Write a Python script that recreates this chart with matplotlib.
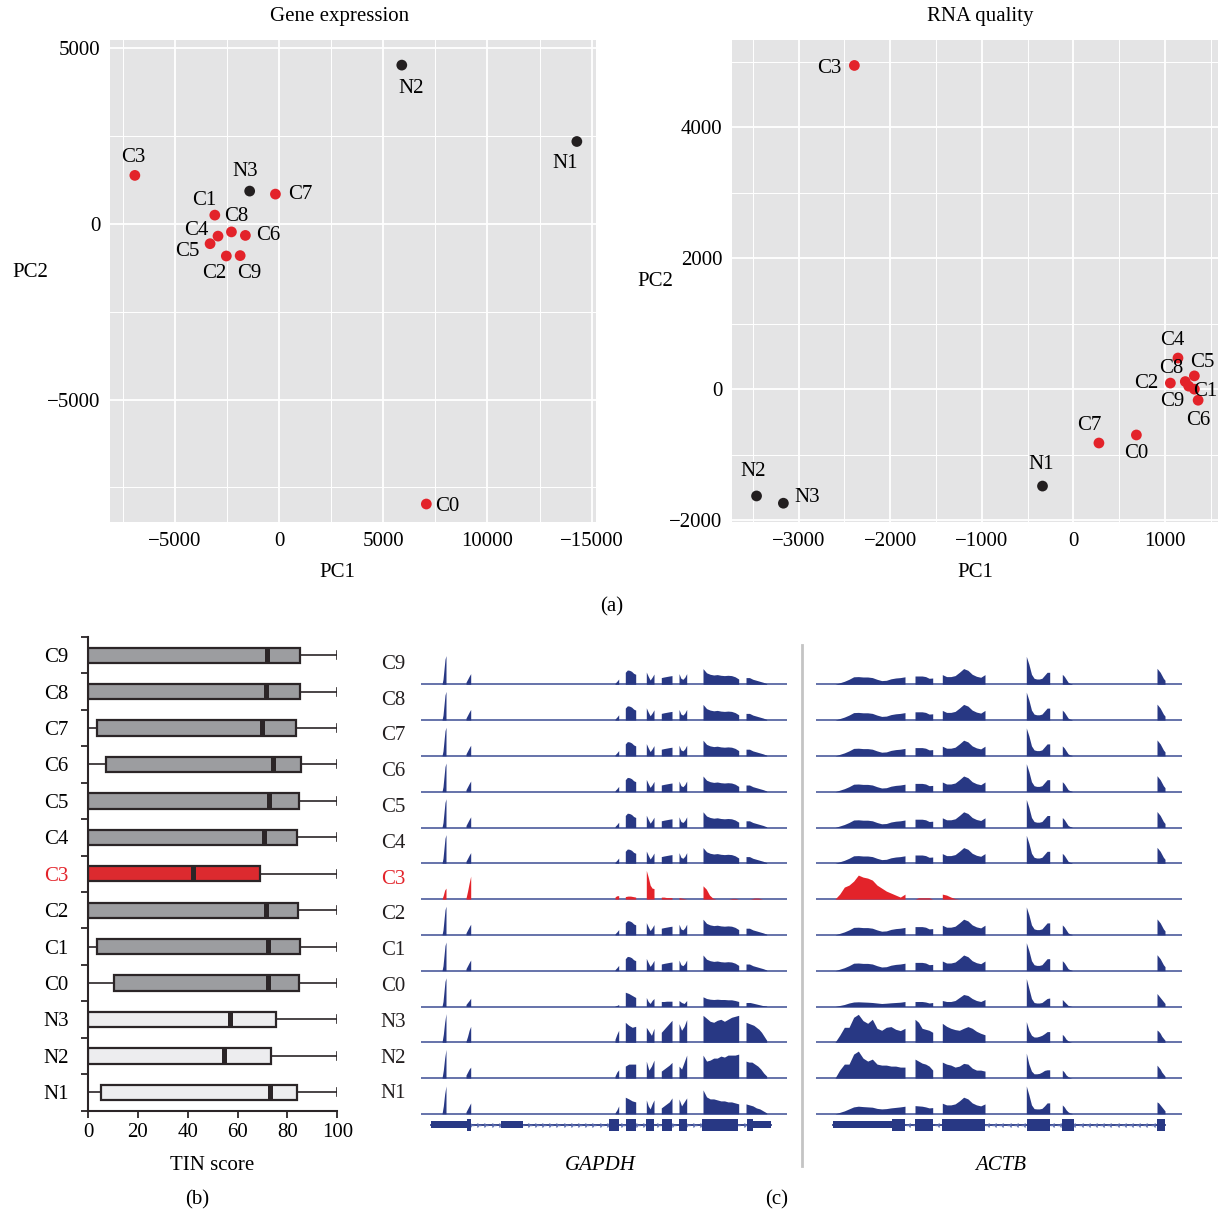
import matplotlib
matplotlib.use('Agg')
import matplotlib.pyplot as plt
from matplotlib.ticker import MultipleLocator, FixedLocator
from matplotlib.lines import Line2D
import numpy as np

plt.rcParams['font.family'] = ['Liberation Serif', 'DejaVu Serif']
plt.rcParams['font.size'] = 15

W, H = 1218, 1213

# ---------------- (a) PCA ----------------
pca_names = ['N1', 'N2', 'N3', 'C0', 'C1', 'C2', 'C3', 'C4', 'C5', 'C6', 'C7', 'C8', 'C9']
gene_pc1 = [14288, 5889, -1409, 7067, -3082, -2529, -6918, -2928, -3308, -1615, -173, -2284, -1865]
gene_pc2 = [2349, 4524, 937, -7973, 253, -911, 1384, -345, -561, -325, 851, -225, -900]
rna_pc1 = [-337, -3459, -3166, 688, 1321, 1059, -2391, 1142, 1321, 1362, 279, 1222, 1259]
rna_pc2 = [-1481, -1632, -1743, -700, 0, 93, 4947, 476, 203, -169, -823, 116, 46]

# ---------------- (b) TIN boxplot (bottom to top) ----------------
box_names = ['N1', 'N2', 'N3', 'C0', 'C1', 'C2', 'C3', 'C4', 'C5', 'C6', 'C7', 'C8', 'C9']
tin_min = [0, 0, 0, 0, 0, 0, 0, 0, 0, 0, 0, 0, 0]
tin_q1 = [5.4, 0, 0, 10.3, 3.5, 0, 0, 0, 0, 7.1, 3.7, 0, 0]
tin_med = [73.1, 54.4, 56.9, 72.4, 72.3, 71.5, 42.2, 70.5, 72.7, 74.2, 69.7, 71.4, 71.9]
tin_q3 = [83.9, 73.6, 75.4, 84.5, 84.9, 84.3, 68.9, 83.9, 84.7, 85.5, 83.3, 84.9, 84.9]
tin_max = [100, 100, 100, 100, 100, 100, 100, 100, 100, 100, 100, 100, 100]

# ---------------- (c) coverage tracks (top to bottom) ----------------
track_names = ['C9', 'C8', 'C7', 'C6', 'C5', 'C4', 'C3', 'C2', 'C1', 'C0', 'N3', 'N2', 'N1']
track_profile = ['C', 'C', 'C', 'C', 'C', 'C', 'C3', 'C', 'C', 'Clow', 'N3', 'N2', 'N1']

gapdh_exons = [(21.3, 25.3), (45.3, 50), (194.3, 198), (204.6, 215), (225.6, 233.3),
               (240.6, 251.3), (258.3, 266), (282.3, 318), (325.3, 346)]
gapdh_cov = {
    'C': [[0, 5, 15, 25, 28.7], [2, 5, 8, 10.7], [1, 3, 5.3], [12, 14.3, 14, 13, 11, 10],
          [12.3, 8, 4.3, 7, 10.3], [6.7, 7.3, 7.8, 8.3, 8.7], [10.7, 6, 5, 7, 10.7],
          [15.7, 11.5, 10, 9.3, 9.7, 9, 8.7, 9, 8.7, 7.5, 5.3], [6.7, 6.7, 5, 4, 3, 2, 0.7]],
    'Clow': [[0, 5, 15, 25, 28.7], [2, 4, 6, 8.3], [0.5, 1, 2], [14.3, 13, 11, 9],
             [9, 5, 3, 6, 8], [5, 5, 5.3, 5.3, 5.3], [6, 4, 3, 6],
             [9.7, 8, 7.3, 7, 7.3, 7, 7, 6.7, 6.7, 6, 5], [4, 4, 3, 2, 1, 0.5]],
    'C3': [[0, 4, 9, 11], [1, 8, 16, 23], [2, 3, 3.5, 3.3], [2.5, 3, 3, 2.5, 2],
           [28.7, 22, 14, 11, 10.5], [2, 2, 1.5, 1.5, 1.5], [1.5, 1, 0.5, 0],
           [13.3, 10, 4, 1, 0, 0, 0, 0, 0, 0.7, 0.7, 0], [0, 0, 1, 1, 0, 0]],
    'N3': [[0, 8, 20, 28.7], [1, 6, 12, 16], [3, 8, 12], [20, 17, 15, 16],
           [15, 11, 7, 14], [10, 13, 16, 19, 22], [18.7, 12, 16, 22.7],
           [27, 24, 21, 20, 22, 23, 21, 23, 25, 26, 27], [20, 19, 18, 17, 15, 13, 10, 6, 2]],
    'N2': [[0, 8, 20, 28.7], [3, 6, 9, 11], [2, 6, 8.3], [12, 14, 14, 14],
           [17, 8, 12, 18], [7, 9, 11, 13, 15.7], [12, 9, 16, 23],
           [23, 17, 18, 20, 20, 22, 21, 23, 23, 23, 24], [17, 16, 16, 14, 12, 9, 5, 2]],
    'N1': [[0, 8, 20, 28], [2, 5, 8, 11], [1, 4, 8], [16.7, 15, 13, 12],
           [14, 8, 5, 10, 14], [6, 8, 10, 12, 16], [15, 8, 12, 16],
           [24, 17, 15, 15, 14, 13, 13, 12, 12, 11, 10], [10, 9, 8, 6, 5, 3, 1]],
}

actb_exons = [(19, 89), (99, 116.7), (126.3, 169), (210.3, 233.7), (246.3, 256), (341, 349)]
actb_cov = {
    'C': [[0, 1.5, 3, 5, 7.5, 7.7, 7.3, 7.3, 6.7, 5, 3.7, 4, 5.5, 6.3, 6.7, 7.5],
          [8.3, 8.3, 8.3, 7.7, 6, 6.3], [9.7, 7.7, 7.7, 8.7, 12, 15.7, 14, 10, 8, 7, 9.7],
          [28, 20, 10, 6, 5.3, 5.3, 6, 9, 12, 12], [10, 8, 5, 2, 1, 0.5], [16, 14, 12, 9, 6, 4]],
    'Clow': [[0, 1, 2, 3.5, 4.5, 4.7, 4.5, 4.3, 4, 3.5, 3, 3.3, 3.7, 4, 4.3, 5],
             [5, 5, 5, 4.5, 3.5, 4], [6, 5, 5, 6, 9, 12, 11, 8, 6, 5, 7],
             [28, 18, 8, 4, 3.5, 3.5, 4, 6, 8, 8.5], [7, 5, 3, 1, 0.5, 0], [13, 11, 9, 7, 5, 3]],
    'C3': [[0, 5, 12, 14, 18, 24, 22, 21, 19, 14, 11, 8, 6, 4, 2, 5],
           [0, 1.3, 1.3, 1.3, 1.3, 0], [5, 4, 2, 0.5, 0, 0, 0, 0, 0, 0, 0],
           [0, 0], [0, 0], [0, 0]],
    'N3': [[0, 7, 15, 15, 25, 28, 21.7, 19, 23, 14, 12, 15, 15.7, 13, 11.7, 14],
           [23, 20, 14, 13, 12, 10], [19, 16, 14, 12.7, 12, 14, 15.7, 14, 11, 9, 7.5],
           [20.7, 12, 7, 5.3, 5.3, 6, 7, 8.7, 10.7, 10.7], [8, 6, 3, 1.5, 0.5, 0],
           [12.3, 11, 9, 6, 4, 2]],
    'N2': [[0, 8, 14, 14, 24, 27, 20, 17, 19, 14, 13, 13, 12, 12, 11, 11],
           [19, 17, 15, 14, 12, 8], [16, 14, 13, 11, 12, 14.7, 14, 10, 8, 8, 7],
           [25, 14, 7, 4.3, 4.3, 4.7, 6, 7.7, 8.3, 8.3], [8, 6, 3, 1.5, 0.5, 0],
           [13, 11, 9, 6, 4, 2]],
    'N1': [[0, 1.5, 3, 5, 7, 7.7, 7.3, 7, 6.7, 5.5, 5, 5.3, 6, 6.5, 7, 7.7],
           [8.3, 8, 7.7, 7, 6, 6.3], [10.7, 9, 9, 10, 13, 16.7, 15, 11, 9, 8, 10],
           [28, 19, 9, 5.3, 5, 5, 5.5, 8, 11, 11], [9, 7, 4, 2, 1, 0.5], [12, 11, 9, 7, 5, 3]],
}

# gene models: intron span, thin (UTR) blocks, thick (CDS) blocks
gapdh_span = (10.3, 350.3)
gapdh_thin = [(10.3, 46), (80.3, 102), (332, 350.3)]
gapdh_thick = [(46, 50), (188.3, 198.6), (205.3, 215), (225.3, 233), (241.3, 251),
               (258.3, 266), (281.3, 317.3), (326, 332)]
actb_span = (16.7, 349)
actb_thin = [(16.7, 75.7)]
actb_thick = [(75.7, 89), (99, 116.7), (126.3, 169), (211, 233.7), (246.3, 258.3), (341, 349)]

RED = '#e3232a'
DARK = '#231f20'
NAVY = '#283884'
INK = '#2b2527'

fig = plt.figure(figsize=(W / 100, H / 100), dpi=100)


def box(x0, y0, x1, y1):
    return [x0 / W, 1 - y1 / H, (x1 - x0) / W, (y1 - y0) / H]


def ftext(x, y, s, **kw):
    fig.text(x / W, 1 - y / H, s, ha='center', va='center', **kw)


def pca_axes(rect, xs, ys, offsets, xlim, ylim):
    ax = fig.add_axes(rect)
    ax.set_facecolor('#e4e4e5')
    for sp in ax.spines.values():
        sp.set_visible(False)
    ax.set_axisbelow(True)
    ax.grid(True, which='major', color='white', lw=1.3)
    ax.grid(True, which='minor', color='white', lw=0.7)
    ax.tick_params(which='both', length=0, pad=7, labelsize=15)
    cols = [DARK if n.startswith('N') else RED for n in pca_names]
    ax.scatter(xs, ys, c=cols, s=60, lw=0, zorder=3)
    for n, x, y in zip(pca_names, xs, ys):
        dx, dy = offsets[n]
        ax.annotate(n, (x, y), xytext=(dx, dy), textcoords='offset pixels',
                    ha='center', va='center', fontsize=15, annotation_clip=False)
    ax.set_xlim(xlim)
    ax.set_ylim(ylim)
    return ax


gene_off = {'N1': (-12, -22), 'N2': (9, -23), 'N3': (-4, 20), 'C0': (21, -2), 'C1': (-11, 15),
            'C2': (-12, -18), 'C3': (-2, 18), 'C4': (-22, 6), 'C5': (-23, -8), 'C6': (23, 0),
            'C7': (25, 0), 'C8': (5, 15), 'C9': (9, -18)}
rna_off = {'N1': (-1, 22), 'N2': (-3, 24), 'N3': (24, 6), 'C0': (0, -19), 'C1': (11, -2),
           'C2': (-24, 0), 'C3': (-25, -3), 'C4': (-6, 18), 'C5': (8, 13), 'C6': (0, -20),
           'C7': (-10, 18), 'C8': (-14, 13), 'C9': (-16, -15)}

ax1 = pca_axes(box(110, 40, 596, 522), gene_pc1, gene_pc2, gene_off, (-8110, 15207), (-8485, 5239))
ax1.xaxis.set_major_locator(FixedLocator([-5000, 0, 5000, 10000, 15000]))
ax1.set_xticklabels(['\u22125000', '0', '5000', '10000', '\u221215000'])
ax1.xaxis.set_minor_locator(MultipleLocator(2500))
ax1.yaxis.set_major_locator(MultipleLocator(5000))
ax1.yaxis.set_minor_locator(MultipleLocator(2500))

ax2 = pca_axes(box(732, 40, 1218, 522), rna_pc1, rna_pc2, rna_off, (-3727, 1579), (-2030, 5336))
ax2.xaxis.set_major_locator(MultipleLocator(1000))
ax2.xaxis.set_minor_locator(MultipleLocator(500))
ax2.yaxis.set_major_locator(MultipleLocator(2000))
ax2.yaxis.set_minor_locator(MultipleLocator(1000))

ftext(340, 17, 'Gene expression')
ftext(980, 17, 'RNA quality')
ftext(337, 573, 'PC1')
ftext(975, 573, 'PC1')
ftext(30, 273, 'PC2')
ftext(655, 282, 'PC2')
ftext(612, 607, '(a)')

# ---------------- (b) ----------------
axb = fig.add_axes(box(88, 637, 337.3, 1110.5))
stats = [dict(whislo=a, q1=b, med=c, q3=d, whishi=e, label=n)
         for a, b, c, d, e, n in zip(tin_min, tin_q1, tin_med, tin_q3, tin_max, box_names)]
bp = axb.bxp(stats, positions=range(len(stats)), orientation='horizontal', widths=0.42,
             patch_artist=True, showfliers=False, capwidths=0.22,
             boxprops=dict(edgecolor=INK, lw=1.6),
             medianprops=dict(color=INK, lw=3.6, solid_capstyle='butt'),
             whiskerprops=dict(color=INK, lw=1.2), capprops=dict(color=INK, lw=1.2))
for patch, n in zip(bp['boxes'], box_names):
    if n == 'C3':
        patch.set_facecolor('#dc2a2f')
    elif n.startswith('N'):
        patch.set_facecolor('#ededef')
    else:
        patch.set_facecolor('#9c9da0')
axb.set_xlim(0, 100)
axb.set_ylim(-0.5, len(stats) - 0.5)
for s in ['top', 'right']:
    axb.spines[s].set_visible(False)
for s in ['left', 'bottom']:
    axb.spines[s].set_color(INK)
    axb.spines[s].set_linewidth(1.5)
axb.set_xticks([0, 20, 40, 60, 80, 100])
axb.set_yticks(range(len(stats)))
axb.set_yticklabels(box_names)
axb.yaxis.set_minor_locator(FixedLocator(np.arange(-0.5, len(stats), 1.0)))
axb.tick_params(axis='y', which='major', length=0, pad=14, labelsize=15)
axb.tick_params(axis='y', which='minor', length=5, width=1.3, color=INK)
axb.tick_params(axis='x', length=5, width=1.3, color=INK, labelsize=15, pad=4)
for lab in axb.get_yticklabels():
    if lab.get_text() == 'C3':
        lab.set_color(RED)
ftext(212, 1165, 'TIN score')
ftext(197, 1200, '(b)')


# ---------------- (c) ----------------
def tracks(rect, exons, cov, span, thin, thick, chevron):
    ax = fig.add_axes(rect)
    ax.set_xlim(0, 366)
    ax.set_ylim(0, 500)
    ax.axis('off')
    for i, (n, p) in enumerate(zip(track_names, track_profile)):
        base = 1140 - (684.3 + 35.8 * i)
        col = RED if n == 'C3' else NAVY
        ax.plot([0, 366], [base, base], color='#4b5b9c', lw=1.2, zorder=1)
        for (s, e), h in zip(exons, cov[p]):
            xs = np.concatenate([[s], np.linspace(s, e, len(h)), [e]])
            ys = np.concatenate([[0], h, [0]])
            ax.fill_between(xs, base, base + ys, color=col, lw=0, zorder=2)
    gy = 15
    ax.plot(span, [gy, gy], color=NAVY, lw=1.3)
    marks = np.arange(span[0] + 4, span[1], 7.2)
    ax.plot(marks, np.full(len(marks), gy), ls='none', marker=chevron, ms=4,
            color='#5c6db0', mew=1.0)
    for s, e in thin:
        ax.fill_between([s, e], gy - 3.5, gy + 3.5, color=NAVY, lw=0, zorder=3)
    for s, e in thick:
        ax.fill_between([s, e], gy - 6.3, gy + 6.3, color=NAVY, lw=0, zorder=3)
    return ax


tracks(box(420.7, 640, 786.7, 1140), gapdh_exons, gapdh_cov, gapdh_span, gapdh_thin, gapdh_thick, '4')
tracks(box(816, 640, 1182, 1140), actb_exons, actb_cov, actb_span, actb_thin, actb_thick, '3')

for i, n in enumerate(track_names):
    ftext(393, 684.3 + 35.8 * i - 20, n, color=RED if n == 'C3' else DARK)

fig.add_artist(Line2D([802 / W, 802 / W], [1 - 645 / H, 1 - 1166 / H], color='#c4c4c4', lw=2))
ftext(600, 1165, 'GAPDH', style='italic')
ftext(1001, 1165, 'ACTB', style='italic')
ftext(777, 1200, '(c)')

fig.savefig('out.png', dpi=100)
